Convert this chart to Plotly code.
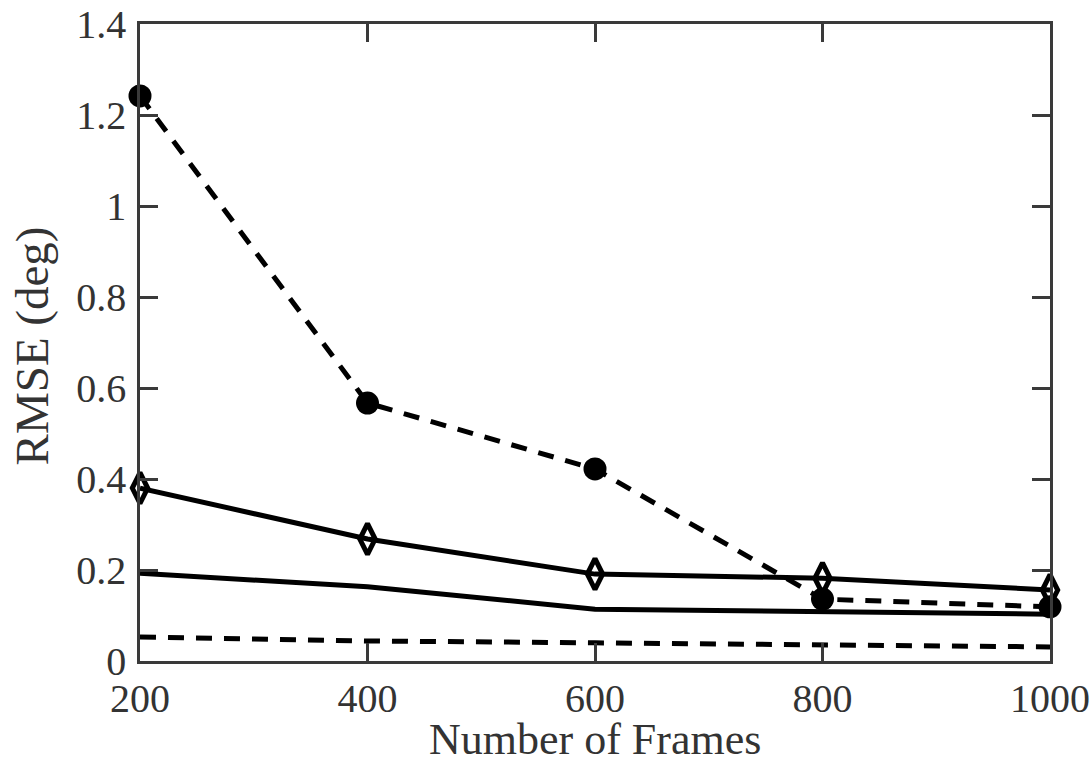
import plotly.graph_objects as go

frames = [200, 400, 600, 800, 1000]
series_circle = [1.242, 0.567, 0.422, 0.136, 0.119]
series_diamond = [0.380, 0.268, 0.191, 0.182, 0.156]
series_solid = [0.193, 0.163, 0.114, 0.108, 0.103]
series_dashed = [0.053, 0.044, 0.040, 0.035, 0.031]

y_ticks = [0, 0.2, 0.4, 0.6, 0.8, 1.0, 1.2, 1.4]
y_labels = ["0", "0.2", "0.4", "0.6", "0.8", "1", "1.2", "1.4"]
x_ticks = [200, 400, 600, 800, 1000]
x_title = "Number of Frames"
y_title = "RMSE (deg)"

SERIF = "Liberation Serif"
TXT = "#333333"

fig = go.Figure()
fig.add_trace(go.Scatter(x=frames, y=series_dashed, mode="lines",
                         line=dict(color="black", width=5, dash="16px,12px"), cliponaxis=False))
fig.add_trace(go.Scatter(x=frames, y=series_solid, mode="lines",
                         line=dict(color="black", width=5), cliponaxis=False))
fig.add_trace(go.Scatter(x=frames, y=series_diamond, mode="lines+markers",
                         line=dict(color="black", width=5),
                         marker=dict(symbol="diamond-tall-open", size=22, color="black",
                                     line=dict(width=5, color="black")), cliponaxis=False))
fig.add_trace(go.Scatter(x=frames, y=series_circle, mode="lines+markers",
                         line=dict(color="black", width=5, dash="16px,12px"),
                         marker=dict(symbol="circle", size=23, color="black"), cliponaxis=False))

axis_common = dict(showline=True, linecolor="#3a3a3a", linewidth=2.5, mirror="ticks",
                   ticks="inside", ticklen=18, tickwidth=2.5, tickcolor="#3a3a3a",
                   showgrid=False, zeroline=False, automargin=False,
                   tickfont=dict(family=SERIF, size=40, color=TXT))

fig.update_layout(
    width=1092, height=766,
    margin=dict(l=140, r=42, t=24, b=105),
    paper_bgcolor="white", plot_bgcolor="white",
    showlegend=False,
    xaxis=dict(range=[200, 1000], tickvals=x_ticks, ticklabelstandoff=0, **axis_common),
    yaxis=dict(range=[0, 1.4], tickvals=y_ticks, ticktext=y_labels, ticklabelstandoff=3,
               **axis_common),
    annotations=[
        dict(text=x_title, xref="paper", yref="paper", x=0.5, y=-0.1645,
             xanchor="center", yanchor="bottom", showarrow=False,
             font=dict(family=SERIF, size=44, color=TXT)),
        dict(text=y_title, xref="paper", yref="paper", x=-0.119, y=0.495, textangle=-90,
             xanchor="center", yanchor="middle", showarrow=False,
             font=dict(family=SERIF, size=47, color=TXT)),
    ],
)

fig.write_html("out.html")
